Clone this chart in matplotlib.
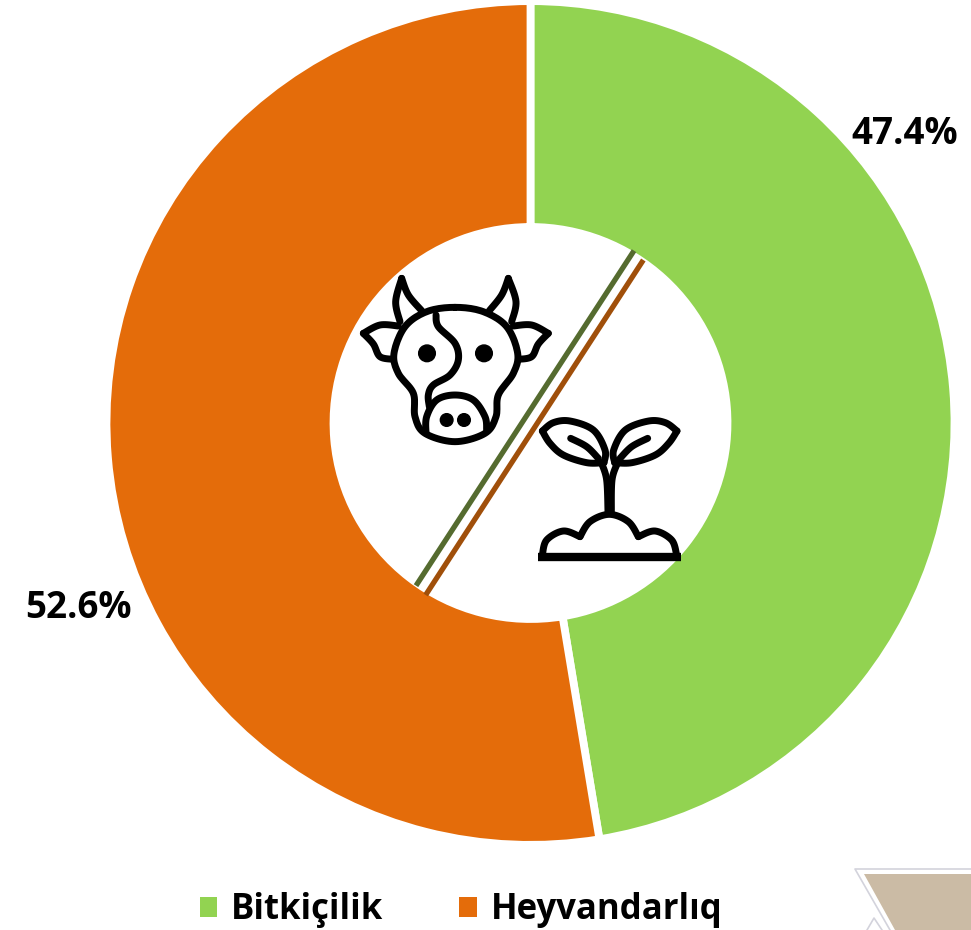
import numpy as np
from matplotlib import pyplot as plt
from matplotlib.patches import Circle, Polygon, Rectangle

labels = ['Bitkiçilik', 'Heyvandarlıq']
values = [47.4, 52.6]
value_labels = ['47.4%', '52.6%']
colors = ['#92D351', '#E46C0A']

plt.rcParams['font.family'] = ['Open Sans', 'DejaVu Sans']
plt.rcParams['font.weight'] = 'bold'

fig = plt.figure(figsize=(9.71, 9.3), dpi=100)

# the ring is a touch flatter than a true circle, so it gets its own axes
ax_pie = fig.add_axes([0, 1 - (423 + 0.995 * 507) / 930, 1, 0.995])
ax_pie.pie(values, colors=colors, startangle=90, counterclock=False,
           center=(530.5, 507), radius=424,
           wedgeprops=dict(width=227, edgecolor='white', linewidth=5.6))
ax_pie.set_xlim(0, 971)
ax_pie.set_ylim(0, 930)
ax_pie.set_aspect('auto')
ax_pie.axis('off')

ax = fig.add_axes([0, 0, 1, 1])
ax.set_xlim(0, 971)
ax.set_ylim(0, 930)
ax.axis('off')

ax.text(905, 930 - 134, value_labels[0], ha='center', va='center', fontsize=26.5, fontweight='bold', color='black')
ax.text(78.5, 930 - 608, value_labels[1], ha='center', va='center', fontsize=26.5, fontweight='bold', color='black')

handles = [Rectangle((0, 0), 1, 1, color=c, lw=0) for c in colors]
ax.legend(handles, labels, loc='center', bbox_to_anchor=(461 / 971, 1 - 910 / 930), ncol=2, frameon=False,
          fontsize=25, handlelength=0.5, handleheight=0.5, handletextpad=0.4, columnspacing=2.2,
          borderpad=0, borderaxespad=0, labelcolor='black')


def crop(pts):
    pts = np.array(pts, dtype=float)
    return 330 + pts[:, 0] / 3, 930 - (220 + pts[:, 1] / 3)


def smooth(pts, closed=False):
    p = np.array(pts, dtype=float)
    if closed:
        p = np.vstack([p[-2], p, p[1]])
    else:
        p = np.vstack([p[0], p, p[-1]])
    out = []
    for i in range(1, len(p) - 2):
        for t in np.linspace(0, 1, 12):
            out.append(0.5 * (2 * p[i] + (p[i + 1] - p[i - 1]) * t
                              + (2 * p[i - 1] - 5 * p[i] + 4 * p[i + 1] - p[i + 2]) * t ** 2
                              + (3 * p[i] - p[i - 1] - 3 * p[i + 1] + p[i + 2]) * t ** 3))
    return out


def stroke(pts, lw=5, closed=False):
    x, y = crop(smooth(pts, closed))
    ax.plot(x, y, color='black', lw=lw, solid_capstyle='round', solid_joinstyle='round', zorder=5)


def dot(zx, zy, r):
    x, y = crop([(zx, zy)])
    ax.add_patch(Circle((x[0], y[0]), r / 3, color='black', zorder=5))


# divider
x, y = crop([(912, 92), (258, 1097)])
ax.plot(x, y, color='#556B2F', lw=3.8, solid_capstyle='butt', zorder=4)
x, y = crop([(940, 120), (287, 1125)])
ax.plot(x, y, color='#A04F0A', lw=3.8, solid_capstyle='butt', zorder=4)

# cow
stroke([(375, 262), (290, 275), (225, 320), (192, 400), (205, 460), (250, 520), (255, 590), (285, 640),
        (375, 665), (465, 640), (498, 590), (505, 525), (550, 460), (563, 400), (530, 320), (460, 275),
        (375, 262)], closed=True)
stroke([(210, 305), (197, 245), (215, 175)])
stroke([(215, 175), (235, 225), (275, 272)])
stroke([(545, 305), (558, 245), (535, 175)])
stroke([(535, 175), (515, 225), (478, 272)])
stroke([(205, 318), (150, 315), (100, 340)])
stroke([(100, 340), (130, 372), (150, 410), (190, 418)])
stroke([(550, 318), (605, 315), (655, 340)])
stroke([(655, 340), (625, 372), (605, 410), (565, 418)])
stroke([(318, 285), (325, 320), (375, 370), (385, 420), (360, 465), (310, 495), (295, 525), (298, 560)])
stroke([(288, 640), (290, 590), (320, 540), (375, 525), (430, 540), (465, 590), (470, 630)])
dot(291, 400, 25)
dot(462, 400, 25)
dot(350, 600, 19)
dot(402, 600, 19)

# sprout
stroke([(637, 633), (670, 608), (720, 603), (790, 630), (825, 690), (822, 728)])
stroke([(637, 633), (660, 670), (700, 705), (770, 728), (822, 728)])
stroke([(1041, 633), (1006, 608), (956, 603), (886, 630), (851, 690), (854, 728)])
stroke([(1041, 633), (1016, 670), (976, 705), (906, 728), (854, 728)])
stroke([(722, 655), (770, 680), (805, 715)])
stroke([(953, 655), (905, 680), (870, 715)])
stroke([(815, 730), (830, 780), (834, 875)])
stroke([(862, 730), (846, 780), (844, 875)])
stroke([(637, 1005), (650, 960), (700, 933), (750, 950)])
stroke([(750, 950), (780, 905), (838, 883), (895, 905), (925, 950)])
stroke([(925, 950), (975, 933), (1025, 960), (1040, 1005)])
x, y = crop([(624, 1010), (1053, 1010)])
ax.plot(x, y, color='black', lw=6, solid_capstyle='butt', zorder=5)

# decoration in the lower right corner
ax.add_patch(Polygon([(864, 930 - 874), (971, 930 - 874), (971, 0), (895, 0)], color='#CBBBA5', lw=0))
ax.plot([971, 855, 890], [930 - 869, 930 - 869, 0], color='#D3D3DC', lw=1.2)
ax.plot([867, 874, 882], [0, 930 - 918, 0], color='#D3D3DC', lw=1.2)

plt.savefig('out.png', dpi=100)
